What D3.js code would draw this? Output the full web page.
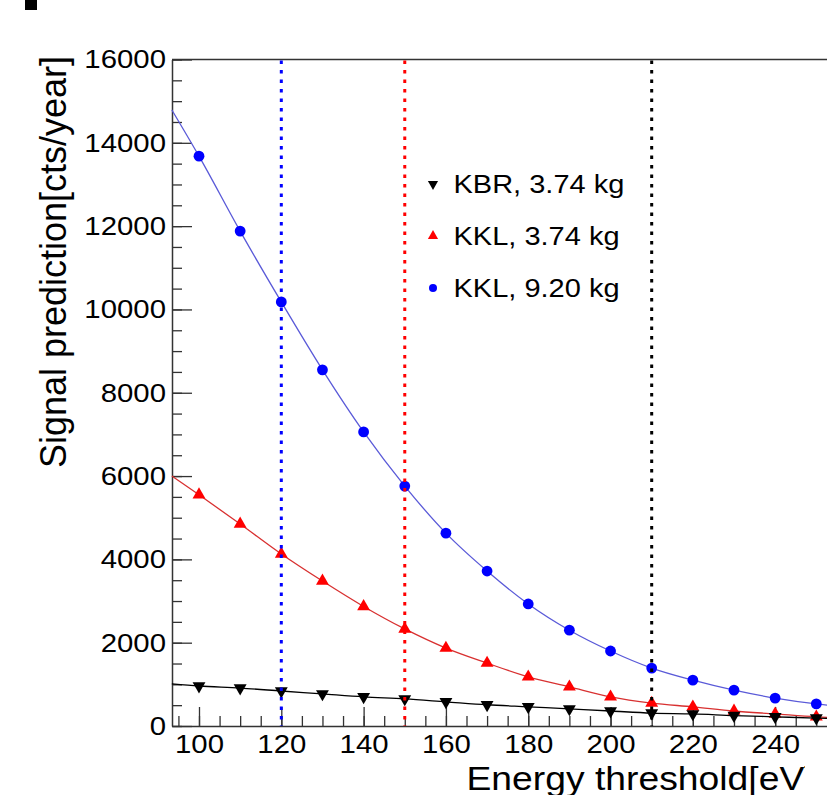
<!DOCTYPE html>
<html>
<head>
<meta charset="utf-8">
<script src="https://cdn.jsdelivr.net/npm/d3@7"></script>
<style>
  body { margin: 0; background: #fff; }
  svg { display: block; }
  svg text { font-family: "Liberation Sans", Arial, Helvetica, sans-serif; }
</style>
</head>
<body>
<svg id="chart" width="827" height="795"></svg>
<script>
'use strict';

// data
var energies = [100, 110, 120, 130, 140, 150, 160, 170, 180, 190, 200, 210, 220, 230, 240, 250];
var kbr374 = [960, 910, 840, 770, 700, 650, 580, 510, 460, 410, 360, 310, 290, 250, 220, 190];
var kkl374 = [5550, 4850, 4130, 3480, 2870, 2330, 1870, 1510, 1180, 940, 700, 550, 460, 360, 290, 220];
var kkl920 = [13680, 11880, 10180, 8550, 7060, 5760, 4630, 3720, 2930, 2300, 1800, 1390, 1100, 860, 670, 530];

// fit curves also run to the frame edges
var fitEdges = [93.4, 256];
var kbrEdges = [1010, 175];
var kkl374Edges = [6000, 190];
var kkl920Edges = [14790, 470];

var thresholds = [120, 150, 210];
var thresholdColors = ['#0000ff', '#ff0000', '#000000'];

var yTicks = [0, 2000, 4000, 6000, 8000, 10000, 12000, 14000, 16000];
var xTicks = [100, 120, 140, 160, 180, 200, 220, 240];

var legendLabels = ['KBR, 3.74 kg', 'KKL, 3.74 kg', 'KKL, 9.20 kg'];

var svg = d3.select('#chart');

var x = d3.scaleLinear().domain([93.44, 256]).range([172, 841]);
var y = d3.scaleLinear().domain([0, 16000]).range([726, 59.5]);

var sx = 1.13; // text in the picture is a bit wide

// little black block top left
svg.append('rect').attr('x', 25).attr('y', 0).attr('width', 12).attr('height', 10).attr('fill', '#000');

// minor ticks
var yMinor = d3.range(0, 16001, 500);
svg.append('g').attr('transform', 'translate(172,0)')
  .call(d3.axisLeft(y).tickValues(yMinor).tickSizeInner(-10).tickSizeOuter(0).tickFormat(''))
  .call(function (g) { g.select('.domain').remove(); });

var xMinor = d3.range(95, 256, 5);
svg.append('g').attr('transform', 'translate(0,726)')
  .call(d3.axisBottom(x).tickValues(xMinor).tickSizeInner(-10).tickSizeOuter(0).tickFormat(''))
  .call(function (g) { g.select('.domain').remove(); });

// major axes
var yAxis = svg.append('g').attr('transform', 'translate(172,0)')
  .call(d3.axisLeft(y).tickValues(yTicks).tickFormat(d3.format('d'))
    .tickSizeInner(-20).tickSizeOuter(0).tickPadding(6));
yAxis.selectAll('text')
  .attr('x', -6 / sx)
  .attr('transform', 'scale(' + sx + ',1)')
  .style('font-size', '26px').attr('fill', '#000');

var xAxis = svg.append('g').attr('transform', 'translate(0,726)')
  .call(d3.axisBottom(x).tickValues(xTicks).tickFormat(d3.format('d'))
    .tickSizeInner(-19).tickSizeOuter(0).tickPadding(9));
xAxis.selectAll('text')
  .attr('transform', 'scale(' + sx + ',1)')
  .style('font-size', '26px').attr('fill', '#000');

svg.selectAll('.tick line').attr('stroke', '#333').attr('stroke-width', 1.3);
svg.selectAll('.domain').attr('stroke', '#333').attr('stroke-width', 1.5);

// top frame
svg.append('line')
  .attr('x1', x.range()[0]).attr('x2', x.range()[1])
  .attr('y1', y(16000)).attr('y2', y(16000))
  .attr('stroke', '#333').attr('stroke-width', 1.5);

// titles
svg.append('text')
  .attr('transform', 'translate(66,262) scale(1.05,1) rotate(-90)')
  .attr('text-anchor', 'middle')
  .style('font-size', '36px')
  .text('Signal prediction[cts/year]');

// x title runs off the picture on the right like in the original
svg.append('clipPath').attr('id', 'titleClip')
  .append('rect').attr('x', 0).attr('y', 740).attr('width', 805).attr('height', 60);
svg.append('g').attr('clip-path', 'url(#titleClip)')
  .append('text')
  .attr('transform', 'translate(466.5,790) scale(' + sx + ',1)')
  .style('font-size', '33px')
  .text('Energy threshold[eV]');

// series
var series = [
  { name: legendLabels[2], values: kkl920, edges: kkl920Edges, color: '#0000ff', line: '#5a5ad8', shape: 'circle' },
  { name: legendLabels[1], values: kkl374, edges: kkl374Edges, color: '#ff0000', line: '#d83030', shape: 'up' },
  { name: legendLabels[0], values: kbr374, edges: kbrEdges, color: '#000000', line: '#000000', shape: 'down' }
];

var line = d3.line()
  .x(function (d) { return x(d[0]); })
  .y(function (d) { return y(d[1]); })
  .curve(d3.curveMonotoneX);

var tri = d3.symbol().type(d3.symbolTriangle).size(72);
var triSmall = d3.symbol().type(d3.symbolTriangle).size(45);

function drawMarker(g, shape, color, small) {
  if (shape === 'circle') {
    g.append('circle').attr('r', small ? 4 : 5.4).attr('fill', color);
  } else {
    g.append('path').attr('d', small ? triSmall() : tri())
      .attr('transform', shape === 'down' ? 'rotate(180)' : null)
      .attr('fill', color);
  }
}

series.forEach(function (s) {
  var pts = [[fitEdges[0], s.edges[0]]];
  energies.forEach(function (e, i) { pts.push([e, s.values[i]]); });
  pts.push([fitEdges[1], s.edges[1]]);

  svg.append('path').datum(pts)
    .attr('d', line)
    .attr('fill', 'none')
    .attr('stroke', s.line)
    .attr('stroke-width', 1.3);

  energies.forEach(function (e, i) {
    var g = svg.append('g').attr('transform', 'translate(' + x(e) + ',' + y(s.values[i]) + ')');
    drawMarker(g, s.shape, s.color, false);
  });
});

// threshold lines
thresholds.forEach(function (t, i) {
  svg.append('line')
    .attr('x1', x(t)).attr('x2', x(t))
    .attr('y1', y(16000) + 1).attr('y2', y(0))
    .attr('stroke', thresholdColors[i])
    .attr('stroke-width', 3)
    .attr('stroke-dasharray', '3.5,6');
});

// legend
var legendRows = [series[2], series[1], series[0]];
legendRows.forEach(function (s, i) {
  var row = svg.append('g').attr('transform', 'translate(433,' + (193 + i * 52) + ')');
  var m = row.append('g').attr('transform', 'translate(0,-9)');
  drawMarker(m, s.shape, s.color, true);
  row.append('text')
    .attr('x', 20 / sx)
    .attr('transform', 'scale(1.16,1)')
    .style('font-size', '25px')
    .text(s.name);
});
</script>
</body>
</html>
